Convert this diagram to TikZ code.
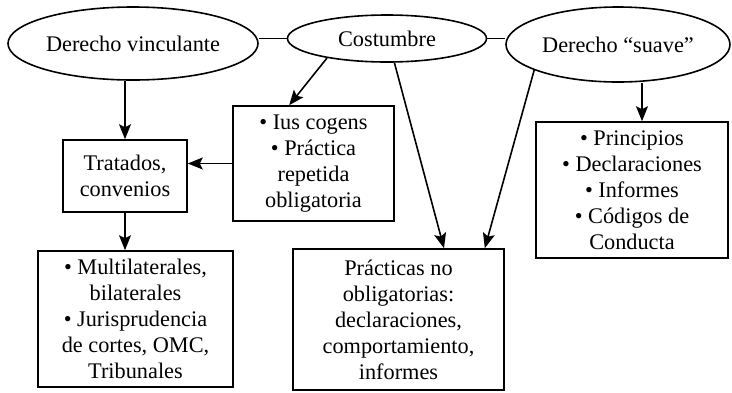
\documentclass[tikz,border=0pt]{standalone}
\usepackage{fontspec}
\setmainfont{Liberation Serif}
\usetikzlibrary{shapes.geometric,arrows.meta,calc}
\begin{document}
\begin{tikzpicture}[x=1pt,y=-1pt,
  every node/.style={font=\fontsize{22.3}{26}\selectfont, align=center, inner sep=0pt},
  ell/.style={draw, ellipse, line width=1.6pt},
  box/.style={draw, rectangle, line width=1.6pt},
  arr/.style={line width=1.6pt, -{Stealth[length=15pt,width=12pt,inset=3pt]}},
  ln/.style={line width=1.6pt}]
\useasboundingbox (0,0) rectangle (732,392);
% ellipses
\node[ell, minimum width=250pt, minimum height=73pt] (dv) at (133,43.5) {Derecho vinculante};
\node[ell, minimum width=199pt, minimum height=47pt] (cos) at (387,38.5) {Costumbre};
\node[ell, minimum width=224pt, minimum height=75pt] (sv) at (618,44.5) {Derecho “suave”};
% boxes
\node[box, minimum width=124pt, minimum height=72pt] (trat) at (125,176) {Tratados,\\convenios};
\node[box, minimum width=161pt, minimum height=115pt] (ius) at (313.5,163.5) {• Ius cogens\\• Práctica\\repetida\\obligatoria};
\node[box, minimum width=195pt, minimum height=136pt] (multi) at (135.5,319) {• Multilaterales,\\bilaterales\\• Jurisprudencia\\de cortes, OMC,\\Tribunales};
\node[box, minimum width=211pt, minimum height=141pt] (prac) at (398.5,319.5) {Prácticas no\\obligatorias:\\declaraciones,\\comportamiento,\\informes};
\node[box, minimum width=192pt, minimum height=136pt] (prin) at (632,190) {• Principios\\• Declaraciones\\• Informes\\• Códigos de\\Conducta};
% helper coordinates
\coordinate (iusin) at ($(ius.north west)+(57,0)$);
\coordinate (pracA) at ($(prac.north)+(45.5,0)$);
\coordinate (pracB) at ($(prac.north east)+(-20,0)$);
\coordinate (prinin) at ($(prin.north)+(10,0)$);
% connectors
\draw[ln] (cos.west -| dv.east) -- (cos.west);
\draw[ln] (cos.east) -- (cos.east -| sv.west);
\draw[arr] (trat.north |- dv.south) -- (trat.north);
\draw[arr] (trat.south) -- (trat.south |- multi.north);
\draw[arr] (ius.west) -- (ius.west -| trat.east);
\draw[arr] (cos.198) -- (iusin);
\draw[arr] (cos.287) -- (pracA);
\draw[arr] (sv.197) -- (pracB);
\draw[arr] (prinin |- sv.south) -- (prinin);
\end{tikzpicture}
\end{document}
